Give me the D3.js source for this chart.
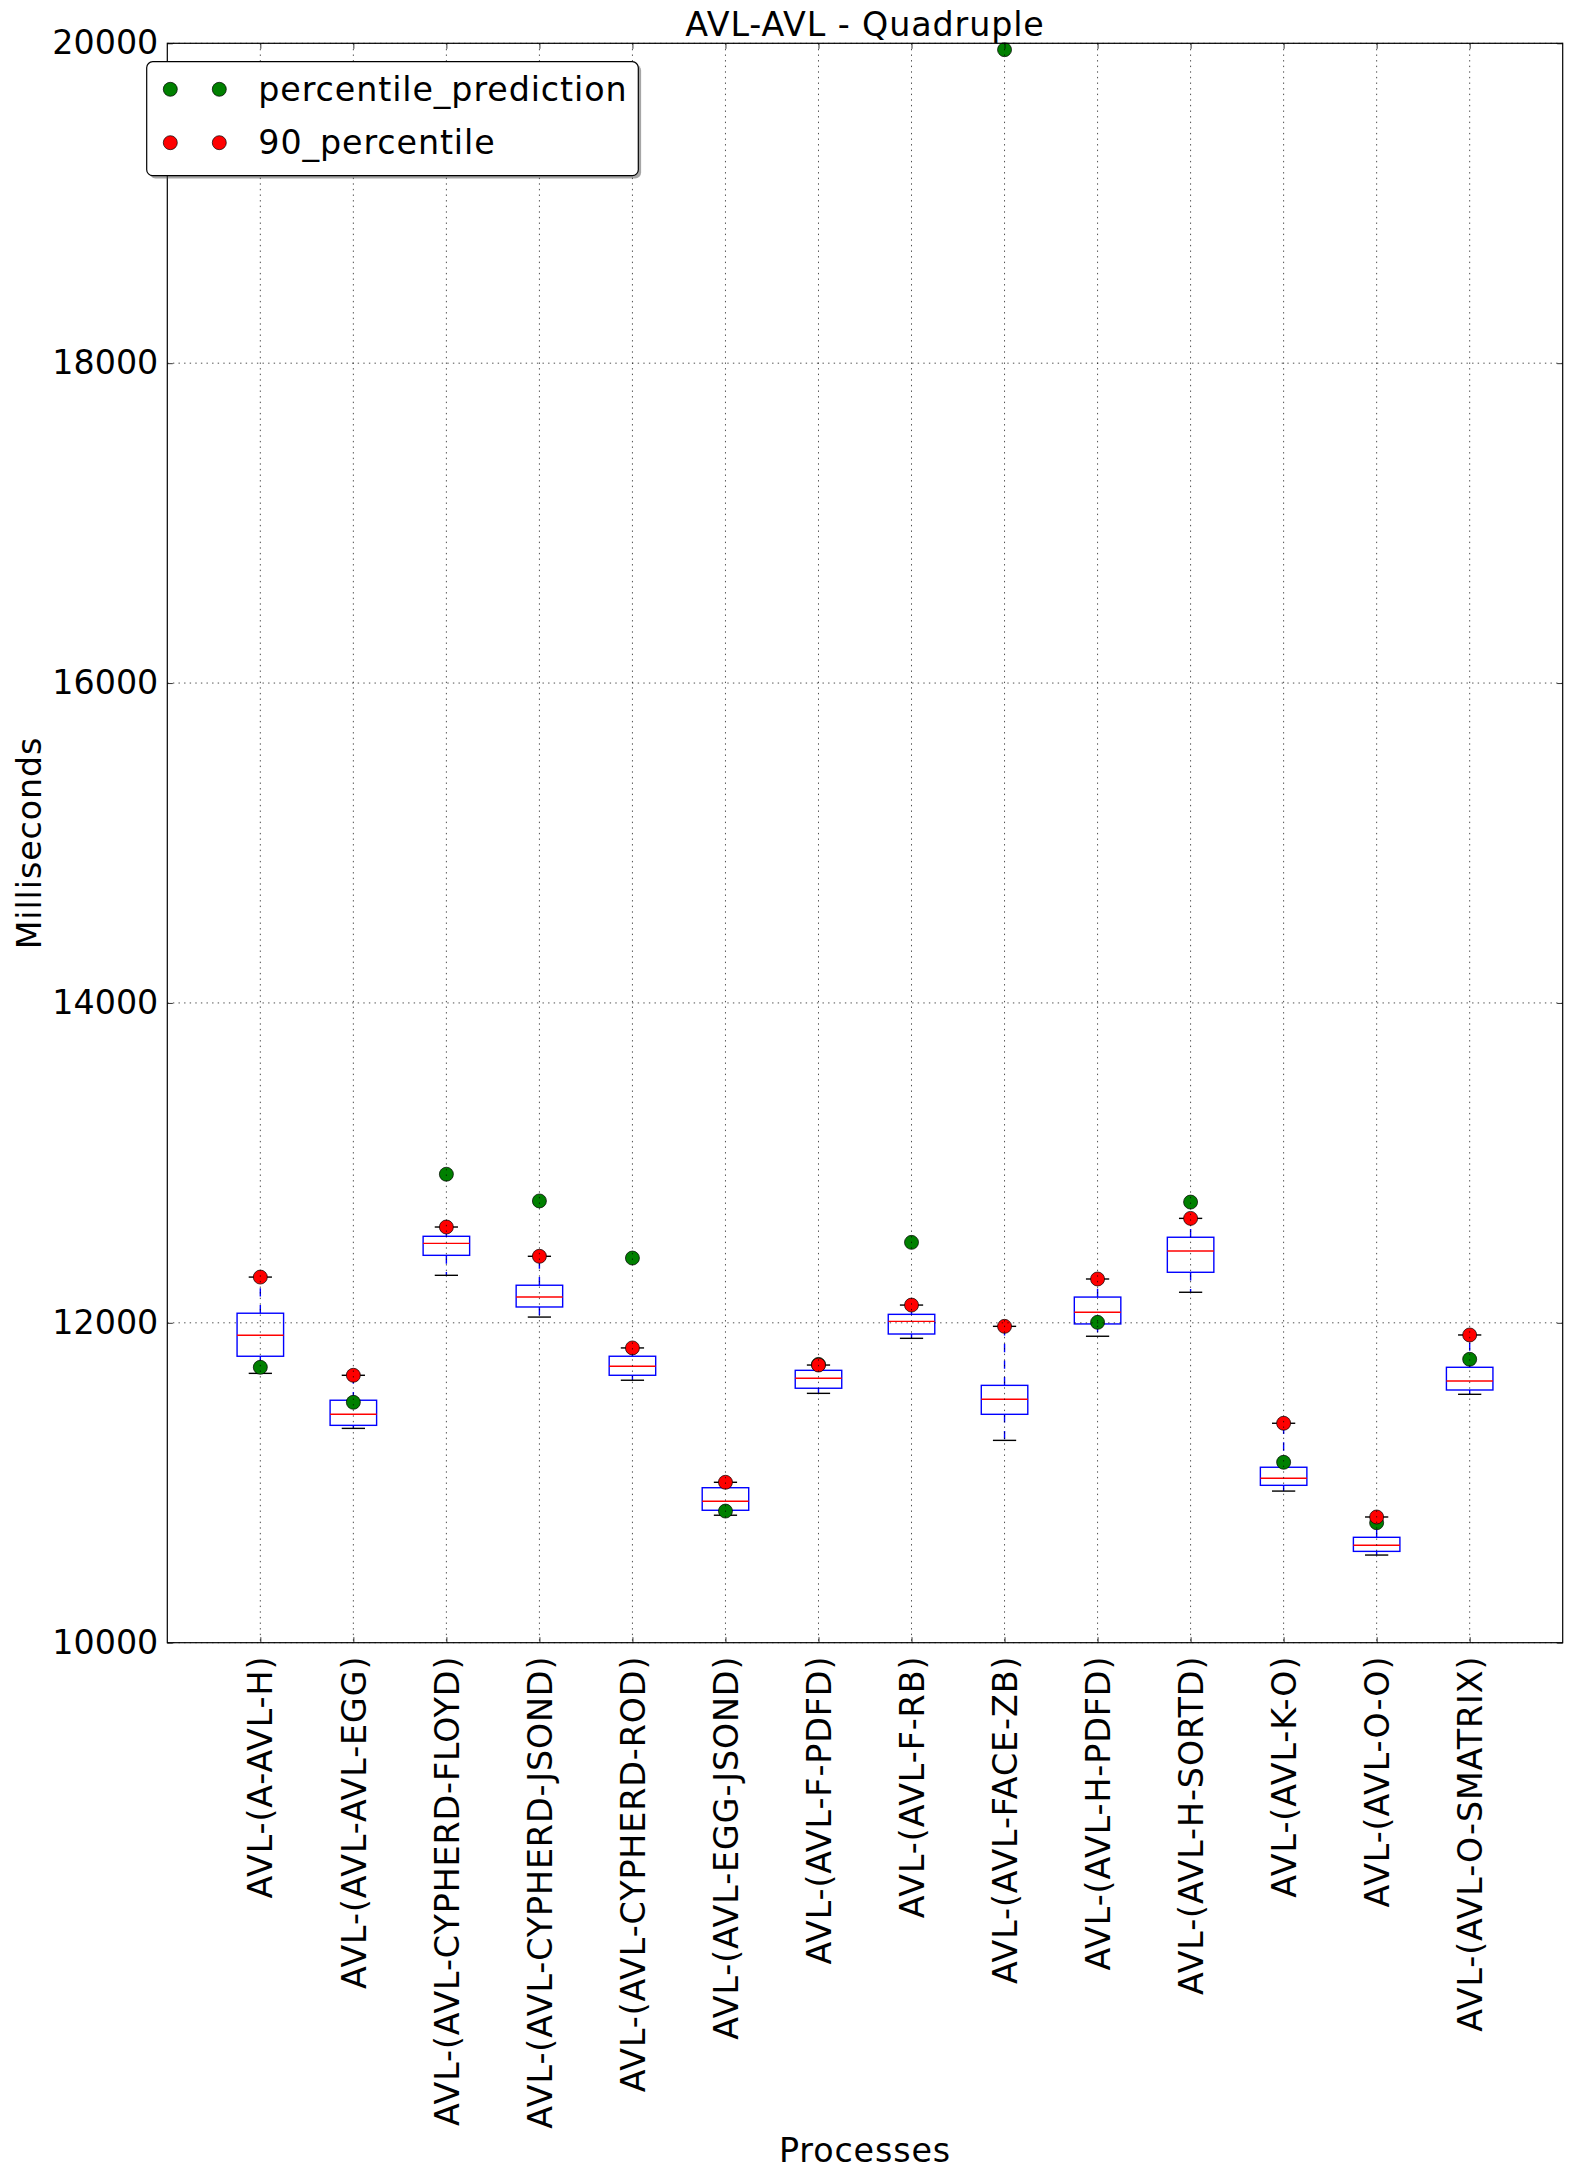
<!DOCTYPE html>
<html lang="en">
<head>
    <meta charset="UTF-8">
    <title>AVL-AVL - Quadruple</title>
    <script src="https://d3js.org/d3.v7.min.js"></script>
    <style>
        body { margin: 0; background: white; }
        text { font-family: "DejaVu Sans", sans-serif; }
        .wide { letter-spacing: 0.9px; }
    </style>
</head>
<body>
    <svg width="1571" height="2178"></svg>

    <script>
        // data
        const processes = [
            "AVL-(A-AVL-H)", "AVL-(AVL-AVL-EGG)", "AVL-(AVL-CYPHERD-FLOYD)", "AVL-(AVL-CYPHERD-JSOND)",
            "AVL-(AVL-CYPHERD-ROD)", "AVL-(AVL-EGG-JSOND)", "AVL-(AVL-F-PDFD)", "AVL-(AVL-F-RB)",
            "AVL-(AVL-FACE-ZB)", "AVL-(AVL-H-PDFD)", "AVL-(AVL-H-SORTD)", "AVL-(AVL-K-O)",
            "AVL-(AVL-O-O)", "AVL-(AVL-O-SMATRIX)"
        ];
        const whiskerLow  = [11684, 11340, 12297, 12036, 11641, 10797, 11559, 11903, 11265, 11916, 12191, 10948, 10548, 11553];
        const q1          = [11791, 11359, 12422, 12099, 11672, 10828, 11591, 11930, 11428, 11993, 12316, 10984, 10571, 11580];
        const medians     = [11922, 11428, 12497, 12161, 11728, 10884, 11653, 12009, 11522, 12066, 12449, 11028, 10609, 11636];
        const q3          = [12060, 11516, 12541, 12235, 11791, 10969, 11703, 12053, 11609, 12161, 12535, 11097, 10659, 11722];
        const whiskerHigh = [12286, 11672, 12599, 12416, 11843, 11003, 11736, 12111, 11978, 12274, 12653, 11372, 10786, 11924];
        const percentilePrediction = [11722, 11503, 12929, 12762, 12405, 10823, 11740, 12503, 19960, 12003, 12755, 11128, 10750, 11772];
        const percentile90 = [12286, 11672, 12599, 12416, 11843, 11003, 11736, 12111, 11978, 12274, 12653, 11372, 10786, 11924];
        const yTicks = [10000, 12000, 14000, 16000, 18000, 20000];

        const svg = d3.select("svg");
        const plotLeft = 167.3, plotRight = 1562.7, plotTop = 43.3, plotBottom = 1642.7;
        const fontSize = 33.3;

        const x = d3.scalePoint().domain(processes).range([plotLeft, plotRight]).padding(1);
        const y = d3.scaleLinear().domain([10000, 20000]).range([plotBottom, plotTop]);
        const boxW = x.step() * 0.5;
        const capW = x.step() * 0.25;

        const rows = processes.map((p, i) => ({
            name: p, lo: whiskerLow[i], q1: q1[i], med: medians[i], q3: q3[i], hi: whiskerHigh[i],
            pred: percentilePrediction[i], p90: percentile90[i]
        }));

        // boxes
        const boxes = svg.append("g");
        rows.forEach(d => {
            const cx = x(d.name);
            // whiskers
            boxes.append("line")
                .attr("x1", cx).attr("x2", cx).attr("y1", y(d.q3)).attr("y2", y(d.hi))
                .attr("stroke", "blue").attr("stroke-width", 1.4).attr("stroke-dasharray", "8.3,8.3");
            boxes.append("line")
                .attr("x1", cx).attr("x2", cx).attr("y1", y(d.q1)).attr("y2", y(d.lo))
                .attr("stroke", "blue").attr("stroke-width", 1.4).attr("stroke-dasharray", "8.3,8.3");
            // caps
            [d.lo, d.hi].forEach(v => {
                boxes.append("line")
                    .attr("x1", cx - capW / 2).attr("x2", cx + capW / 2).attr("y1", y(v)).attr("y2", y(v))
                    .attr("stroke", "black").attr("stroke-width", 1.4);
            });
            // box
            boxes.append("rect")
                .attr("x", cx - boxW / 2).attr("y", y(d.q3))
                .attr("width", boxW).attr("height", y(d.q1) - y(d.q3))
                .attr("fill", "none").attr("stroke", "blue").attr("stroke-width", 1.4);
            // median
            boxes.append("line")
                .attr("x1", cx - boxW / 2).attr("x2", cx + boxW / 2).attr("y1", y(d.med)).attr("y2", y(d.med))
                .attr("stroke", "red").attr("stroke-width", 1.4);
        });

        // points
        svg.append("g").selectAll("circle").data(rows).join("circle")
            .attr("cx", d => x(d.name)).attr("cy", d => y(d.pred)).attr("r", 7)
            .attr("fill", "green").attr("stroke", "black").attr("stroke-width", 0.7);
        svg.append("g").selectAll("circle").data(rows).join("circle")
            .attr("cx", d => x(d.name)).attr("cy", d => y(d.p90)).attr("r", 7)
            .attr("fill", "red").attr("stroke", "black").attr("stroke-width", 0.7);

        // grid on top (classic style)
        const grid = svg.append("g").attr("stroke", "black").attr("stroke-width", 0.7).attr("stroke-dasharray", "1.4,4.2");
        grid.selectAll(".gx").data(processes).join("line")
            .attr("x1", d => x(d)).attr("x2", d => x(d)).attr("y1", plotTop).attr("y2", plotBottom);
        grid.selectAll(".gy").data(yTicks).join("line")
            .attr("x1", plotLeft).attr("x2", plotRight).attr("y1", d => y(d)).attr("y2", d => y(d));

        // axes, inward ticks all round
        const tick = 5.5;
        const yAxis = svg.append("g").attr("transform", `translate(${plotLeft},0)`)
            .call(d3.axisLeft(y).tickValues(yTicks).tickFormat(d3.format("d")).tickSize(-tick).tickPadding(9));
        svg.append("g").attr("transform", `translate(${plotRight},0)`)
            .call(d3.axisRight(y).tickValues(yTicks).tickFormat("").tickSize(-tick));
        const xAxis = svg.append("g").attr("transform", `translate(0,${plotBottom})`)
            .call(d3.axisBottom(x).tickSize(-tick).tickPadding(0));
        svg.append("g").attr("transform", `translate(0,${plotTop})`)
            .call(d3.axisTop(x).tickFormat("").tickSize(-tick));

        svg.selectAll(".domain").remove();
        svg.selectAll(".tick line").attr("stroke", "black").attr("stroke-width", 0.8);
        yAxis.selectAll("text").attr("font-size", fontSize).attr("fill", "black")
            .attr("font-family", "DejaVu Sans");
        xAxis.selectAll("text")
            .attr("class", "wide")
            .attr("font-size", fontSize).attr("fill", "black").attr("font-family", "DejaVu Sans")
            .attr("text-anchor", "end").attr("y", 0).attr("dy", "0.35em")
            .attr("transform", "translate(0,13) rotate(-90)");

        // frame
        svg.append("rect")
            .attr("x", plotLeft).attr("y", plotTop).attr("width", plotRight - plotLeft).attr("height", plotBottom - plotTop)
            .attr("fill", "none").attr("stroke", "black").attr("stroke-width", 1.2);

        // titles
        svg.append("text").attr("class", "wide").attr("x", (plotLeft + plotRight) / 2).attr("y", 36)
            .attr("text-anchor", "middle").attr("font-size", fontSize).text("AVL-AVL - Quadruple");
        svg.append("text").attr("class", "wide").attr("x", (plotLeft + plotRight) / 2).attr("y", 2162)
            .attr("text-anchor", "middle").attr("font-size", fontSize).text("Processes");
        svg.append("text").attr("class", "wide")
            .attr("transform", `translate(41,${(plotTop + plotBottom) / 2}) rotate(-90)`)
            .attr("text-anchor", "middle").attr("font-size", fontSize).text("Milliseconds");

        // legend
        const legendItems = [
            { label: "percentile_prediction", color: "green" },
            { label: "90_percentile", color: "red" }
        ];
        const lg = svg.append("g");
        lg.append("rect").attr("x", 149.5).attr("y", 64.5).attr("width", 491.6).attr("height", 114)
            .attr("rx", 6).attr("fill", "#4d4d4d").attr("opacity", 0.5);
        lg.append("rect").attr("x", 146.7).attr("y", 61.7).attr("width", 491.6).attr("height", 114)
            .attr("rx", 6).attr("fill", "white").attr("stroke", "black").attr("stroke-width", 1.2);
        legendItems.forEach((item, i) => {
            const ly = 89.3 + i * 53.4;
            [170.3, 219.3].forEach(mx => {
                lg.append("circle").attr("cx", mx).attr("cy", ly).attr("r", 7)
                    .attr("fill", item.color).attr("stroke", "black").attr("stroke-width", 0.7);
            });
            lg.append("text").attr("class", "wide").attr("x", 258.3).attr("y", ly).attr("dy", "0.35em")
                .attr("font-size", fontSize).text(item.label);
        });
    </script>
</body>
</html>
